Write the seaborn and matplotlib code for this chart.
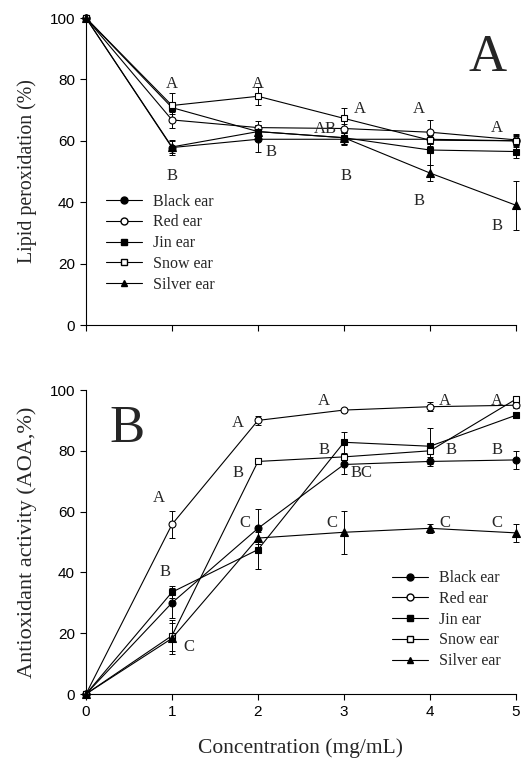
import numpy as np
import pandas as pd
import matplotlib
matplotlib.use("Agg")
import matplotlib.pyplot as plt
import seaborn as sns
from matplotlib.lines import Line2D

sns.set_theme(style="ticks")
plt.rcParams['font.family'] = ['Liberation Sans', 'DejaVu Sans']

conc = [0, 1, 2, 3, 4, 5]
series = ["Black ear", "Red ear", "Jin ear", "Snow ear", "Silver ear"]

# Panel A: lipid peroxidation (%)
lp_black = [100, 57.8, 60.5, 60.5, 60.5, 60.0]
lp_red = [100, 66.8, 64.3, 64.0, 62.8, 60.3]
lp_jin = [100, 70.8, 63.0, 61.0, 57.0, 56.5]
lp_snow = [100, 71.5, 74.5, 67.3, 60.2, 60.0]
lp_silver = [100, 58.0, 63.0, 61.0, 49.5, 39.0]
lp_err_black = [0, 2.5, 4.0, 2.0, 1.5, 1.5]
lp_err_red = [0, 2.5, 2.0, 1.5, 4.0, 2.0]
lp_err_jin = [0, 2.0, 2.0, 2.0, 5.0, 2.0]
lp_err_snow = [0, 4.0, 3.0, 3.5, 2.0, 2.0]
lp_err_silver = [0, 2.0, 2.0, 2.0, 2.5, 8.0]

# Panel B: antioxidant activity (AOA, %)
aoa_black = [0, 30.0, 54.5, 75.5, 76.5, 77.0]
aoa_red = [0, 55.8, 90.0, 93.4, 94.5, 95.0]
aoa_jin = [0, 33.5, 47.5, 82.8, 81.5, 91.7]
aoa_snow = [0, 19.2, 76.5, 78.0, 80.0, 97.0]
aoa_silver = [0, 18.3, 51.3, 53.2, 54.5, 53.0]
aoa_err_black = [0, 5.0, 6.5, 3.0, 1.5, 3.0]
aoa_err_red = [0, 4.5, 1.5, 0.8, 1.5, 1.0]
aoa_err_jin = [0, 2.0, 6.5, 3.5, 6.0, 1.0]
aoa_err_snow = [0, 5.0, 1.0, 1.0, 1.0, 1.0]
aoa_err_silver = [0, 5.0, 2.0, 7.0, 1.5, 3.0]

# significance letters (x, y, text)
letters_a = [(1.0, 78.5, "A"), (1.0, 48.5, "B"), (2.0, 78.5, "A"), (2.15, 56.5, "B"),
             (3.18, 70.5, "A"), (2.78, 64.0, "AB"), (3.02, 48.5, "B"),
             (3.87, 70.5, "A"), (3.87, 40.5, "B"), (4.78, 64.3, "A"), (4.78, 32.3, "B")]
letters_b = [(0.85, 64.4, "A"), (0.92, 40.2, "B"), (1.2, 15.6, "C"),
             (1.77, 89.0, "A"), (1.77, 72.6, "B"), (1.85, 56.3, "C"),
             (2.77, 96.5, "A"), (2.77, 80.3, "B"), (3.2, 72.6, "BC"), (2.86, 56.3, "C"),
             (4.17, 96.5, "A"), (4.24, 80.3, "B"), (4.17, 56.3, "C"),
             (4.78, 96.5, "A"), (4.78, 80.3, "B"), (4.78, 56.3, "C")]

markers = {"Black ear": ("o", "black"), "Red ear": ("o", "white"),
           "Jin ear": ("s", "black"), "Snow ear": ("s", "white"),
           "Silver ear": ("^", "black")}

lp = {"Black ear": (lp_black, lp_err_black), "Red ear": (lp_red, lp_err_red),
      "Jin ear": (lp_jin, lp_err_jin), "Snow ear": (lp_snow, lp_err_snow),
      "Silver ear": (lp_silver, lp_err_silver)}
aoa = {"Black ear": (aoa_black, aoa_err_black), "Red ear": (aoa_red, aoa_err_red),
       "Jin ear": (aoa_jin, aoa_err_jin), "Snow ear": (aoa_snow, aoa_err_snow),
       "Silver ear": (aoa_silver, aoa_err_silver)}

serif = ['Liberation Serif', 'DejaVu Serif']

fig = plt.figure(figsize=(5.23, 7.59), dpi=100)
axA = fig.add_axes([86/523, 1-325/759, 430/523, 307/759])
axB = fig.add_axes([86/523, 1-694/759, 430/523, 304/759])


def draw(ax, data, letters, big, bigpos, ylabel, ylsize, legloc, legbbox):
    for name in series:
        vals, errs = data[name]
        df = pd.DataFrame({"x": conc, "y": vals})
        m, fc = markers[name]
        sns.lineplot(data=df, x="x", y="y", ax=ax, color="black", lw=0.8,
                     marker=m, markersize=5 if m != "^" else 5.5,
                     markerfacecolor=fc, markeredgecolor="black",
                     markeredgewidth=0.8, clip_on=False, zorder=3)
        ax.errorbar(conc, vals, yerr=errs, fmt="none", ecolor="black",
                    elinewidth=0.7, capsize=2.5, capthick=0.7, clip_on=False, zorder=2)
    for x, y, t in letters:
        ax.text(x, y, t, fontsize=12, family=serif, ha="center", va="center")
    ax.text(bigpos[0], bigpos[1], big, fontsize=38, family=serif, ha="center", va="baseline")
    ax.set_xlim(0, 5)
    ax.set_ylim(0, 100)
    ax.set_xticks(conc)
    ax.set_yticks([0, 20, 40, 60, 80, 100])
    ax.set_ylabel(ylabel, family=serif, fontsize=ylsize)
    ax.yaxis.set_label_coords(-0.113, 0.5)
    ax.set_xlabel("")
    sns.despine(ax=ax)
    for s in ["left", "bottom"]:
        ax.spines[s].set_linewidth(0.8)
        ax.spines[s].set_color("black")
    ax.tick_params(direction="out", length=4, width=0.8, labelsize=11, colors="black", pad=4)
    handles = [Line2D([0], [0], color="black", lw=0.8, marker=markers[n][0],
                      markerfacecolor=markers[n][1], markeredgecolor="black",
                      markersize=5) for n in series]
    ax.legend(handles, series, loc=legloc, bbox_to_anchor=legbbox, frameon=False,
              prop={"family": serif, "size": 11.5}, handlelength=2.3,
              handletextpad=0.7, labelspacing=0.3)


draw(axA, lp, letters_a, "A", (4.67, 82.6), "Lipid peroxidation (%)", 14.3,
     "lower left", (0.012, 0.058))
axA.tick_params(axis="x", labelbottom=False)

draw(axB, aoa, letters_b, "B", (0.48, 82.9), "Antioxidant activity (AOA,%)", 16,
     "lower right", (0.999, 0.034))
axB.set_xlabel("Concentration (mg/mL)", family=serif, fontsize=15.5, labelpad=14)

fig.savefig("out.png", dpi=100)
